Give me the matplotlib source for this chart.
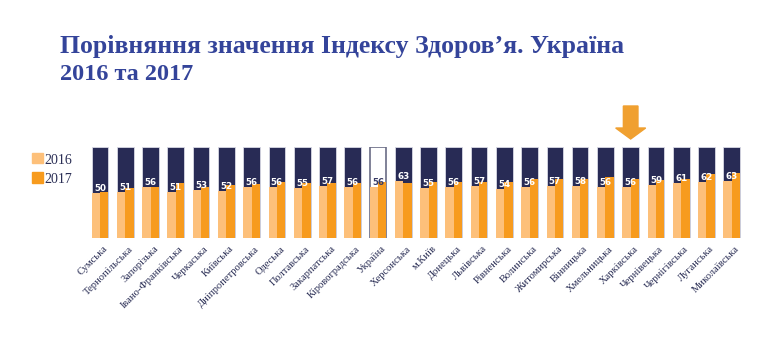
import matplotlib
matplotlib.use("Agg")
import matplotlib.pyplot as plt
from matplotlib.patches import Rectangle, FancyArrow
import numpy as np

regions = ['Сумська', 'Тернопільська', 'Запорізька', 'Івано-Франківська', 'Черкаська',
           'Київська', 'Дніпропетровська', 'Одеська', 'Полтавська', 'Закарпатська',
           'Кіровоградська', 'Україна', 'Херсонська', 'м.Київ', 'Донецька', 'Львівська',
           'Рівненська', 'Волинська', 'Житомирська', 'Вінницька', 'Хмельницька',
           'Харківська', 'Чернівецька', 'Чернігівська', 'Луганська', 'Миколаївська']
values_2016 = [50, 51, 56, 51, 53, 52, 56, 56, 55, 57, 56, 56, 63, 55, 56, 57, 54, 56,
               57, 58, 56, 56, 59, 61, 62, 63]
values_2017 = [50.5, 55.7, 56.4, 60.4, 56.4, 58.6, 60.1, 61.5, 61.2, 61.2, 61.2, 62.3,
               61.2, 62.3, 62.3, 61.5, 61.5, 64.8, 64.8, 64.8, 67.4, 65.6, 64.1, 65.6,
               71.1, 71.4]
scale_max = 100
highlight = 'Україна'
arrow_at = 'Харківська'
title_lines = ['Порівняння значення Індексу Здоров’я. Україна', '2016 та 2017']
legend_labels = ['2016', '2017']

NAVY = '#282B55'
LIGHT = '#FDC07A'
DARK = '#F79B1E'
TITLE_C = '#34449A'
TEXT_C = '#2A2E55'

W, H = 780, 340
fig = plt.figure(figsize=(W / 100, H / 100), dpi=100)

step = 25.27
x0 = 100.0
ax_bottom_px, ax_top_px = 238.3, 147.3
ax = fig.add_axes([0, (H - ax_bottom_px) / H, 1, (ax_bottom_px - ax_top_px) / H])
n = len(regions)
ax.set_xlim(-x0 / step, (W - x0) / step)
ax.set_ylim(0, scale_max)
ax.axis('off')

x = np.arange(n)
bw = 16.7 / step
for i, name in enumerate(regions):
    if name == highlight:
        ax.bar(i, scale_max, width=bw, color='white', edgecolor='#6A6C85', linewidth=1.2, zorder=1)
    else:
        ax.bar(i, scale_max, width=bw, color=NAVY, edgecolor='#D8D9E4', linewidth=0.6, zorder=1)

ax.bar(x - bw / 4, values_2016, width=bw / 2, color=LIGHT, zorder=2)
ax.bar(x + bw / 4, values_2017, width=bw / 2, color=DARK, zorder=3)

for i, v in enumerate(values_2016):
    col = '#3A3D66' if regions[i] == highlight else 'white'
    ax.text(i, v + 2.2, f'{v:d}', ha='center', va='baseline', fontsize=6.3,
            fontweight='bold', color=col, family='DejaVu Sans', zorder=5)

for i, name in enumerate(regions):
    ax.text(i + 0.12, -6.5, name, rotation=45, rotation_mode='anchor', ha='right', va='top',
            fontsize=7.6, color=TEXT_C, family='Liberation Serif', clip_on=False)

ai = regions.index(arrow_at)
y_top = (ax_bottom_px - 106) / 91 * 100
y_tip = (ax_bottom_px - 139) / 91 * 100
arr = FancyArrow(ai, y_top, 0, y_tip - y_top, width=14.6 / step, head_width=30 / step,
                 head_length=(139 - 128) / 91 * 100, length_includes_head=True,
                 color='#F0A030', clip_on=False, zorder=6)
ax.add_patch(arr)

fig.text(60 / W, (H - 53) / H, title_lines[0], fontsize=18.5, fontweight='bold',
         color=TITLE_C, family='Liberation Serif', va='baseline', ha='left')
fig.text(60 / W, (H - 80) / H, title_lines[1], fontsize=17.5, fontweight='bold',
         color=TITLE_C, family='Liberation Serif', va='baseline', ha='left')

for k, (lab, c) in enumerate(zip(legend_labels, [LIGHT, DARK])):
    ytop = 152.5 + k * 19.5
    fig.add_artist(Rectangle((32 / W, (H - ytop - 10.5) / H), 10.5 / W, 10.5 / H,
                             transform=fig.transFigure, color=c))
    fig.text(44 / W, (H - ytop - 7.8) / H, lab, fontsize=10, color=TEXT_C,
             family='Liberation Serif', va='center', ha='left')

fig.savefig('out.png', dpi=100)
